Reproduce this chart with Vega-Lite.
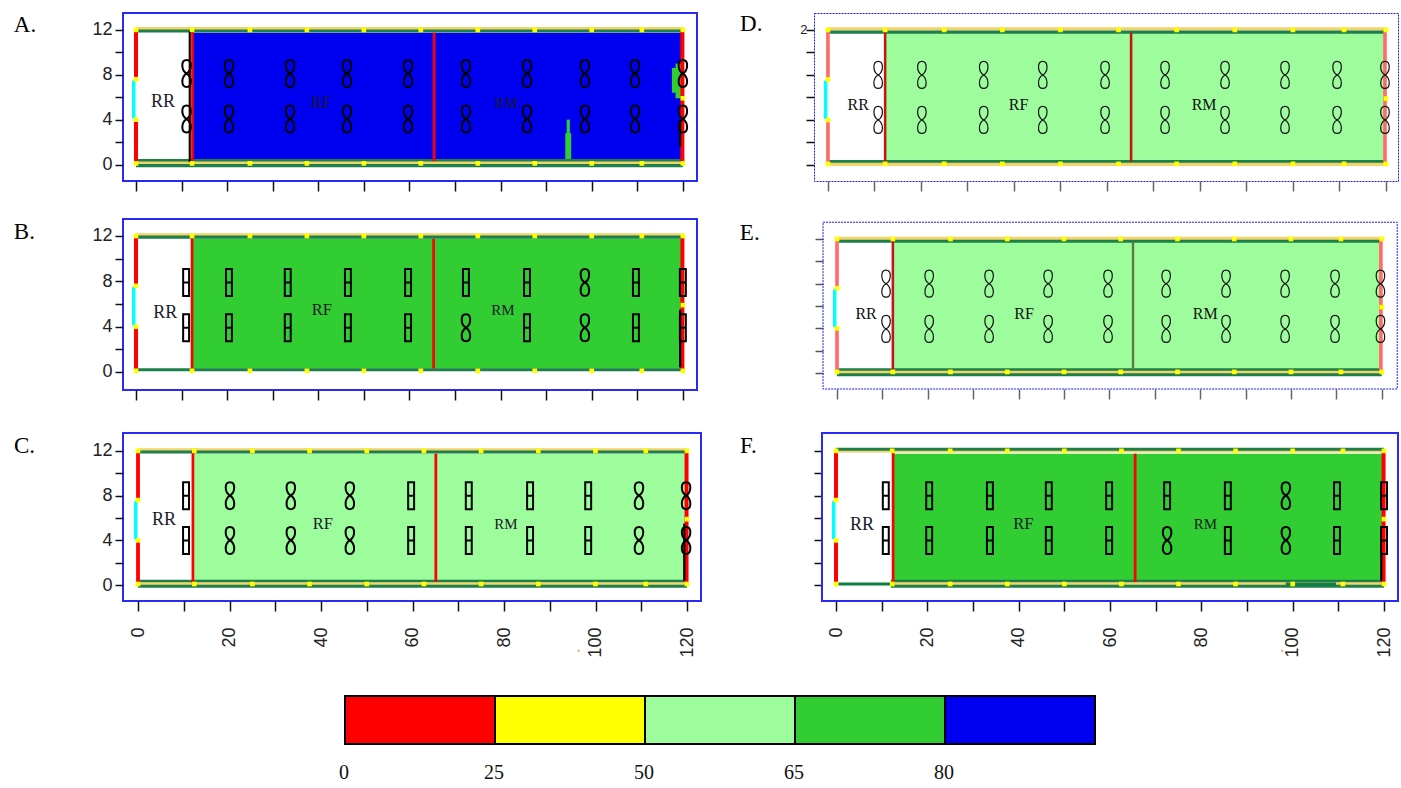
{"$schema":"https://vega.github.io/schema/vega-lite/v6.json","background":"white","padding":{"left":12,"top":12,"right":0,"bottom":0},"bounds":"flush","spacing":{"row":0,"column":113},"columns":2,
"config":{"view":{"stroke":null},"axis":{"title":null,"domain":false,"grid":false,"labelFont":"Liberation Sans","labelFontSize":18,"labelColor":"#222222","tickColor":"#111111","tickWidth":1.5},"axisX":{"tickSize":10,"labelAngle":-90,"labelPadding":16,"labels":false,"values":[0,10,20,30,40,50,60,70,80,90,100,110,120]},"axisY":{"tickSize":8,"labelPadding":3,"values":[0,2,4,6,8,10,12],"labelExpr":"datum.value % 4 === 0 ? datum.label : ''"},"text":{"font":"Liberation Serif"}},
"datasets":{"dots":[{"x":0,"y":12},{"x":12.3,"y":12},{"x":25,"y":12},{"x":37.5,"y":12},{"x":50,"y":12},{"x":62.5,"y":12},{"x":75,"y":12},{"x":87.5,"y":12},{"x":100,"y":12},{"x":111,"y":12},{"x":120,"y":12},{"x":0,"y":0.1},{"x":12.3,"y":0.1},{"x":25,"y":0.1},{"x":37.5,"y":0.1},{"x":50,"y":0.1},{"x":62.5,"y":0.1},{"x":75,"y":0.1},{"x":87.5,"y":0.1},{"x":100,"y":0.1},{"x":111,"y":0.1},{"x":120,"y":0.1},{"x":0,"y":7.6},{"x":0,"y":4},{"x":120,"y":5.9}]},
"data":{"values":[
{"panel":"A","type":"fan","x":11.1,"y":8.1,"form":"eight"},{"panel":"A","type":"fan","x":20.4,"y":8.1,"form":"eight"},{"panel":"A","type":"fan","x":33.8,"y":8.1,"form":"eight"},{"panel":"A","type":"fan","x":46.3,"y":8.1,"form":"eight"},{"panel":"A","type":"fan","x":59.7,"y":8.1,"form":"eight"},{"panel":"A","type":"fan","x":72.4,"y":8.1,"form":"eight"},{"panel":"A","type":"fan","x":85.8,"y":8.1,"form":"eight"},{"panel":"A","type":"fan","x":98.5,"y":8.1,"form":"eight"},{"panel":"A","type":"fan","x":109.5,"y":8.1,"form":"eight"},{"panel":"A","type":"fan","x":120,"y":8.1,"form":"eight"},
{"panel":"A","type":"fan","x":11.1,"y":4.05,"form":"eight"},{"panel":"A","type":"fan","x":20.4,"y":4.05,"form":"eight"},{"panel":"A","type":"fan","x":33.8,"y":4.05,"form":"eight"},{"panel":"A","type":"fan","x":46.3,"y":4.05,"form":"eight"},{"panel":"A","type":"fan","x":59.7,"y":4.05,"form":"eight"},{"panel":"A","type":"fan","x":72.4,"y":4.05,"form":"eight"},{"panel":"A","type":"fan","x":85.8,"y":4.05,"form":"eight"},{"panel":"A","type":"fan","x":98.5,"y":4.05,"form":"eight"},{"panel":"A","type":"fan","x":109.5,"y":4.05,"form":"eight"},{"panel":"A","type":"fan","x":120,"y":4.05,"form":"eight"},
{"panel":"B","type":"fan","x":11,"y":7.9,"form":"block"},{"panel":"B","type":"fan","x":20.4,"y":7.9,"form":"block"},{"panel":"B","type":"fan","x":33.3,"y":7.9,"form":"block"},{"panel":"B","type":"fan","x":46.5,"y":7.9,"form":"block"},{"panel":"B","type":"fan","x":59.7,"y":7.9,"form":"block"},{"panel":"B","type":"fan","x":72.4,"y":7.9,"form":"block"},{"panel":"B","type":"fan","x":85.8,"y":7.9,"form":"block"},{"panel":"B","type":"fan","x":98.5,"y":7.9,"form":"eight"},{"panel":"B","type":"fan","x":109.7,"y":7.9,"form":"block"},{"panel":"B","type":"fan","x":120,"y":7.9,"form":"block"},
{"panel":"B","type":"fan","x":11,"y":3.9,"form":"block"},{"panel":"B","type":"fan","x":20.4,"y":3.9,"form":"block"},{"panel":"B","type":"fan","x":33.3,"y":3.9,"form":"block"},{"panel":"B","type":"fan","x":46.5,"y":3.9,"form":"block"},{"panel":"B","type":"fan","x":59.7,"y":3.9,"form":"block"},{"panel":"B","type":"fan","x":72.4,"y":3.9,"form":"eight"},{"panel":"B","type":"fan","x":85.8,"y":3.9,"form":"block"},{"panel":"B","type":"fan","x":98.5,"y":3.9,"form":"eight"},{"panel":"B","type":"fan","x":109.7,"y":3.9,"form":"block"},{"panel":"B","type":"fan","x":120,"y":3.9,"form":"block"},
{"panel":"C","type":"fan","x":10.5,"y":8,"form":"block"},{"panel":"C","type":"fan","x":20.1,"y":8,"form":"eight"},{"panel":"C","type":"fan","x":33.4,"y":8,"form":"eight"},{"panel":"C","type":"fan","x":46.3,"y":8,"form":"eight"},{"panel":"C","type":"fan","x":59.7,"y":8,"form":"block"},{"panel":"C","type":"fan","x":72.3,"y":8,"form":"block"},{"panel":"C","type":"fan","x":85.7,"y":8,"form":"block"},{"panel":"C","type":"fan","x":98.4,"y":8,"form":"block"},{"panel":"C","type":"fan","x":109.5,"y":8,"form":"eight"},{"panel":"C","type":"fan","x":119.8,"y":8,"form":"eight"},
{"panel":"C","type":"fan","x":10.5,"y":4,"form":"block"},{"panel":"C","type":"fan","x":20.1,"y":4,"form":"eight"},{"panel":"C","type":"fan","x":33.4,"y":4,"form":"eight"},{"panel":"C","type":"fan","x":46.3,"y":4,"form":"eight"},{"panel":"C","type":"fan","x":59.7,"y":4,"form":"block"},{"panel":"C","type":"fan","x":72.3,"y":4,"form":"block"},{"panel":"C","type":"fan","x":85.7,"y":4,"form":"block"},{"panel":"C","type":"fan","x":98.4,"y":4,"form":"block"},{"panel":"C","type":"fan","x":109.5,"y":4,"form":"eight"},{"panel":"C","type":"fan","x":119.8,"y":4,"form":"eight"},
{"panel":"D","type":"fan","x":10.8,"y":8,"form":"eight"},{"panel":"D","type":"fan","x":20.2,"y":8,"form":"eight"},{"panel":"D","type":"fan","x":33.5,"y":8,"form":"eight"},{"panel":"D","type":"fan","x":46.2,"y":8,"form":"eight"},{"panel":"D","type":"fan","x":59.6,"y":8,"form":"eight"},{"panel":"D","type":"fan","x":72.5,"y":8,"form":"eight"},{"panel":"D","type":"fan","x":85.4,"y":8,"form":"eight"},{"panel":"D","type":"fan","x":98.3,"y":8,"form":"eight"},{"panel":"D","type":"fan","x":109.5,"y":8,"form":"eight"},{"panel":"D","type":"fan","x":119.8,"y":8,"form":"eight"},
{"panel":"D","type":"fan","x":10.8,"y":4,"form":"eight"},{"panel":"D","type":"fan","x":20.2,"y":4,"form":"eight"},{"panel":"D","type":"fan","x":33.5,"y":4,"form":"eight"},{"panel":"D","type":"fan","x":46.2,"y":4,"form":"eight"},{"panel":"D","type":"fan","x":59.6,"y":4,"form":"eight"},{"panel":"D","type":"fan","x":72.5,"y":4,"form":"eight"},{"panel":"D","type":"fan","x":85.4,"y":4,"form":"eight"},{"panel":"D","type":"fan","x":98.3,"y":4,"form":"eight"},{"panel":"D","type":"fan","x":109.5,"y":4,"form":"eight"},{"panel":"D","type":"fan","x":119.8,"y":4,"form":"eight"},
{"panel":"E","type":"fan","x":10.8,"y":8,"form":"eight"},{"panel":"E","type":"fan","x":20.3,"y":8,"form":"eight"},{"panel":"E","type":"fan","x":33.5,"y":8,"form":"eight"},{"panel":"E","type":"fan","x":46.5,"y":8,"form":"eight"},{"panel":"E","type":"fan","x":59.7,"y":8,"form":"eight"},{"panel":"E","type":"fan","x":72.5,"y":8,"form":"eight"},{"panel":"E","type":"fan","x":85.7,"y":8,"form":"eight"},{"panel":"E","type":"fan","x":98.7,"y":8,"form":"eight"},{"panel":"E","type":"fan","x":109.7,"y":8,"form":"eight"},{"panel":"E","type":"fan","x":119.7,"y":8,"form":"eight"},
{"panel":"E","type":"fan","x":10.8,"y":3.95,"form":"eight"},{"panel":"E","type":"fan","x":20.3,"y":3.95,"form":"eight"},{"panel":"E","type":"fan","x":33.5,"y":3.95,"form":"eight"},{"panel":"E","type":"fan","x":46.5,"y":3.95,"form":"eight"},{"panel":"E","type":"fan","x":59.7,"y":3.95,"form":"eight"},{"panel":"E","type":"fan","x":72.5,"y":3.95,"form":"eight"},{"panel":"E","type":"fan","x":85.7,"y":3.95,"form":"eight"},{"panel":"E","type":"fan","x":98.7,"y":3.95,"form":"eight"},{"panel":"E","type":"fan","x":109.7,"y":3.95,"form":"eight"},{"panel":"E","type":"fan","x":119.7,"y":3.95,"form":"eight"},
{"panel":"F","type":"fan","x":10.9,"y":8,"form":"block"},{"panel":"F","type":"fan","x":20.4,"y":8,"form":"block"},{"panel":"F","type":"fan","x":33.7,"y":8,"form":"block"},{"panel":"F","type":"fan","x":46.6,"y":8,"form":"block"},{"panel":"F","type":"fan","x":59.8,"y":8,"form":"block"},{"panel":"F","type":"fan","x":72.5,"y":8,"form":"block"},{"panel":"F","type":"fan","x":85.8,"y":8,"form":"block"},{"panel":"F","type":"fan","x":98.5,"y":8,"form":"eight"},{"panel":"F","type":"fan","x":109.7,"y":8,"form":"block"},{"panel":"F","type":"fan","x":120,"y":8,"form":"block"},
{"panel":"F","type":"fan","x":10.9,"y":4,"form":"block"},{"panel":"F","type":"fan","x":20.4,"y":4,"form":"block"},{"panel":"F","type":"fan","x":33.7,"y":4,"form":"block"},{"panel":"F","type":"fan","x":46.6,"y":4,"form":"block"},{"panel":"F","type":"fan","x":59.8,"y":4,"form":"block"},{"panel":"F","type":"fan","x":72.5,"y":4,"form":"eight"},{"panel":"F","type":"fan","x":85.8,"y":4,"form":"block"},{"panel":"F","type":"fan","x":98.5,"y":4,"form":"eight"},{"panel":"F","type":"fan","x":109.7,"y":4,"form":"block"},{"panel":"F","type":"fan","x":120,"y":4,"form":"block"},

{"panel":"E","type":"frame","x":-3.08,"x2":123.4,"y":-1.43,"y2":13.5},{"panel":"F","type":"frame","x":-3.07,"x2":123.06,"y":-1.42,"y2":13.6},

{"panel":"A","type":"zone","x":12.3,"x2":65.4,"y":0.3,"y2":11.75,"band":"80+"},{"panel":"A","type":"zone","x":65.4,"x2":119.6,"y":0.3,"y2":11.75,"band":"80+"},{"panel":"A","type":"zone","x":94.2,"x2":95.5,"y":0.3,"y2":2.8,"band":"65-80"},{"panel":"A","type":"zone","x":94.5,"x2":95.2,"y":2.8,"y2":4,"band":"65-80"},{"panel":"A","type":"zone","x":117.6,"x2":119.6,"y":6.4,"y2":8.6,"band":"65-80"},{"panel":"A","type":"zone","x":118.4,"x2":119.6,"y":5.9,"y2":9,"band":"65-80"},
{"panel":"B","type":"zone","x":12.3,"x2":65.3,"y":0.3,"y2":11.75,"band":"65-80"},{"panel":"B","type":"zone","x":65.3,"x2":119.6,"y":0.3,"y2":11.75,"band":"65-80"},
{"panel":"C","type":"zone","x":12,"x2":65.1,"y":0.3,"y2":11.75,"band":"50-65"},{"panel":"C","type":"zone","x":65.1,"x2":119.6,"y":0.3,"y2":11.75,"band":"50-65"},
{"panel":"D","type":"zone","x":12.3,"x2":65.2,"y":0.3,"y2":11.75,"band":"50-65"},{"panel":"D","type":"zone","x":65.2,"x2":119.6,"y":0.3,"y2":11.75,"band":"50-65"},
{"panel":"E","type":"zone","x":12.3,"x2":65.2,"y":0.3,"y2":11.75,"band":"50-65"},{"panel":"E","type":"zone","x":65.2,"x2":119.6,"y":0.3,"y2":11.75,"band":"50-65"},
{"panel":"F","type":"zone","x":12.5,"x2":65.5,"y":0.3,"y2":11.75,"band":"65-80"},{"panel":"F","type":"zone","x":65.5,"x2":119.6,"y":0.3,"y2":11.75,"band":"65-80"},

{"panel":"A","type":"seg","kind":"top","x":0,"x2":120,"y":12.1,"y2":12.1},{"panel":"A","type":"seg","kind":"green","x":0,"x2":120,"y":11.9,"y2":11.9},{"panel":"A","type":"seg","kind":"green","x":0,"x2":120,"y":0.35,"y2":0.35},{"panel":"A","type":"seg","kind":"top","x":0,"x2":120,"y":0.12,"y2":0.12},{"panel":"A","type":"seg","kind":"green","x":0,"x2":120,"y":-0.1,"y2":-0.1},{"panel":"A","type":"seg","kind":"wall","x":0,"x2":0,"y":0.2,"y2":3.9},{"panel":"A","type":"seg","kind":"wall","x":0,"x2":0,"y":7.7,"y2":11.9},{"panel":"A","type":"seg","kind":"door","x":-0.5,"x2":-0.5,"y":4.1,"y2":7.5},{"panel":"A","type":"seg","kind":"black","x":11.8,"x2":11.8,"y":0.2,"y2":11.9},{"panel":"A","type":"seg","kind":"part","x":12.4,"x2":12.4,"y":0.2,"y2":11.9},{"panel":"A","type":"seg","kind":"part","x":65.4,"x2":65.4,"y":0.3,"y2":11.75},{"panel":"A","type":"seg","kind":"wall","x":119.9,"x2":119.9,"y":0.2,"y2":11.9},{"panel":"A","type":"seg","kind":"black","x":119.4,"x2":119.4,"y":1.6,"y2":4},
{"panel":"B","type":"seg","kind":"top","x":0,"x2":120,"y":12.1,"y2":12.1},{"panel":"B","type":"seg","kind":"green","x":0,"x2":120,"y":11.9,"y2":11.9},{"panel":"B","type":"seg","kind":"green","x":0,"x2":120,"y":0.2,"y2":0.2},{"panel":"B","type":"seg","kind":"wall","x":0,"x2":0,"y":0.2,"y2":3.9},{"panel":"B","type":"seg","kind":"wall","x":0,"x2":0,"y":7.7,"y2":11.9},{"panel":"B","type":"seg","kind":"door","x":-0.5,"x2":-0.5,"y":4.1,"y2":7.5},{"panel":"B","type":"seg","kind":"part","x":12.3,"x2":12.3,"y":0.2,"y2":11.9},{"panel":"B","type":"seg","kind":"part","x":65.3,"x2":65.3,"y":0.3,"y2":11.75},{"panel":"B","type":"seg","kind":"wall","x":119.9,"x2":119.9,"y":0.2,"y2":11.9},{"panel":"B","type":"seg","kind":"black","x":119.4,"x2":119.4,"y":0.4,"y2":5.5},
{"panel":"C","type":"seg","kind":"top","x":0,"x2":120,"y":12.1,"y2":12.1},{"panel":"C","type":"seg","kind":"green","x":0,"x2":120,"y":11.9,"y2":11.9},{"panel":"C","type":"seg","kind":"green","x":0,"x2":120,"y":0.35,"y2":0.35},{"panel":"C","type":"seg","kind":"top","x":0,"x2":120,"y":0.12,"y2":0.12},{"panel":"C","type":"seg","kind":"green","x":0,"x2":120,"y":-0.1,"y2":-0.1},{"panel":"C","type":"seg","kind":"thin","x":0,"x2":0,"y":0.2,"y2":3.9},{"panel":"C","type":"seg","kind":"thin","x":0,"x2":0,"y":7.7,"y2":11.9},{"panel":"C","type":"seg","kind":"door","x":-0.5,"x2":-0.5,"y":4.1,"y2":7.5},{"panel":"C","type":"seg","kind":"part","x":12,"x2":12,"y":0.2,"y2":11.9},{"panel":"C","type":"seg","kind":"part","x":65.1,"x2":65.1,"y":0.3,"y2":11.75},{"panel":"C","type":"seg","kind":"wall","x":119.9,"x2":119.9,"y":0.2,"y2":11.9},{"panel":"C","type":"seg","kind":"black","x":119.4,"x2":119.4,"y":0.4,"y2":5.5},{"panel":"C","type":"seg","kind":"speck","x":96.1,"x2":96.5,"y":-5.87,"y2":-5.87},
{"panel":"D","type":"seg","kind":"top","x":0,"x2":120,"y":12.1,"y2":12.1},{"panel":"D","type":"seg","kind":"green","x":0,"x2":120,"y":11.8,"y2":11.8},{"panel":"D","type":"seg","kind":"green","x":0,"x2":120,"y":0.3,"y2":0.3},{"panel":"D","type":"seg","kind":"top","x":0,"x2":120,"y":0.05,"y2":0.05},{"panel":"D","type":"seg","kind":"pale","x":0,"x2":0,"y":0.2,"y2":3.9},{"panel":"D","type":"seg","kind":"pale","x":0,"x2":0,"y":7.7,"y2":11.9},{"panel":"D","type":"seg","kind":"door","x":-0.5,"x2":-0.5,"y":4.1,"y2":7.5},{"panel":"D","type":"seg","kind":"dark","x":12.3,"x2":12.3,"y":0.2,"y2":11.9},{"panel":"D","type":"seg","kind":"dark","x":65.2,"x2":65.2,"y":0.3,"y2":11.75},{"panel":"D","type":"seg","kind":"pale","x":119.8,"x2":119.8,"y":0.2,"y2":11.9},
{"panel":"E","type":"seg","kind":"top","x":0,"x2":120,"y":12.05,"y2":12.05},{"panel":"E","type":"seg","kind":"green","x":0,"x2":120,"y":11.8,"y2":11.8},{"panel":"E","type":"seg","kind":"green","x":0,"x2":120,"y":0.3,"y2":0.3},{"panel":"E","type":"seg","kind":"top","x":0,"x2":120,"y":0.05,"y2":0.05},{"panel":"E","type":"seg","kind":"green","x":0,"x2":120,"y":-0.15,"y2":-0.15},{"panel":"E","type":"seg","kind":"pale","x":0,"x2":0,"y":0.2,"y2":3.9},{"panel":"E","type":"seg","kind":"pale","x":0,"x2":0,"y":7.7,"y2":11.9},{"panel":"E","type":"seg","kind":"door","x":-0.5,"x2":-0.5,"y":4.1,"y2":7.5},{"panel":"E","type":"seg","kind":"dark","x":12.3,"x2":12.3,"y":0.2,"y2":11.9},{"panel":"E","type":"seg","kind":"olive","x":65.2,"x2":65.2,"y":0.3,"y2":11.75},{"panel":"E","type":"seg","kind":"pale","x":119.8,"x2":119.8,"y":0.2,"y2":11.9},
{"panel":"F","type":"seg","kind":"top","x":0,"x2":120,"y":12,"y2":12},{"panel":"F","type":"seg","kind":"green","x":0,"x2":120,"y":12.15,"y2":12.15},{"panel":"F","type":"seg","kind":"green","x":12,"x2":120,"y":0.35,"y2":0.35},{"panel":"F","type":"seg","kind":"top","x":12,"x2":120,"y":0.12,"y2":0.12},{"panel":"F","type":"seg","kind":"green","x":12,"x2":120,"y":-0.1,"y2":-0.1},{"panel":"F","type":"seg","kind":"thick","x":0.5,"x2":12,"y":0.1,"y2":0.1},{"panel":"F","type":"seg","kind":"thick","x":98.5,"x2":109.5,"y":0.1,"y2":0.1},{"panel":"F","type":"seg","kind":"wall","x":0,"x2":0,"y":0.2,"y2":3.9},{"panel":"F","type":"seg","kind":"wall","x":0,"x2":0,"y":7.7,"y2":11.9},{"panel":"F","type":"seg","kind":"door","x":-0.5,"x2":-0.5,"y":4.1,"y2":7.5},{"panel":"F","type":"seg","kind":"part","x":12.5,"x2":12.5,"y":0.2,"y2":11.9},{"panel":"F","type":"seg","kind":"part","x":65.5,"x2":65.5,"y":0.3,"y2":11.75},{"panel":"F","type":"seg","kind":"wall","x":119.9,"x2":119.9,"y":0.2,"y2":11.9},{"panel":"F","type":"seg","kind":"black","x":119.4,"x2":119.4,"y":0.4,"y2":3},{"panel":"F","type":"seg","kind":"speck","x":97.5,"x2":97.9,"y":-5.87,"y2":-5.87},

{"panel":"A","type":"room","label":"RR","x":5.9,"y":5.6},{"panel":"A","type":"room","label":"RF","x":40.6,"y":5.5},{"panel":"A","type":"room","label":"RM","x":81.2,"y":5.5},
{"panel":"B","type":"room","label":"RR","x":6.4,"y":5.2},{"panel":"B","type":"room","label":"RF","x":40.8,"y":5.5},{"panel":"B","type":"room","label":"RM","x":80.5,"y":5.5},
{"panel":"C","type":"room","label":"RR","x":5.7,"y":5.8},{"panel":"C","type":"room","label":"RF","x":40.4,"y":5.5},{"panel":"C","type":"room","label":"RM","x":80.4,"y":5.5},
{"panel":"D","type":"room","label":"RR","x":6.5,"y":5.3},{"panel":"D","type":"room","label":"RF","x":41,"y":5.3},{"panel":"D","type":"room","label":"RM","x":80.9,"y":5.3},
{"panel":"E","type":"room","label":"RR","x":6.4,"y":5.3},{"panel":"E","type":"room","label":"RF","x":41.2,"y":5.3},{"panel":"E","type":"room","label":"RM","x":81.1,"y":5.3},
{"panel":"F","type":"room","label":"RR","x":5.7,"y":5.4},{"panel":"F","type":"room","label":"RF","x":41,"y":5.5},{"panel":"F","type":"room","label":"RM","x":80.9,"y":5.5},

{"panel":"A","type":"letter","label":"A.","x":-26.8,"y":12.4},{"panel":"B","type":"letter","label":"B.","x":-26.8,"y":12.36},{"panel":"C","type":"letter","label":"C.","x":-27.1,"y":12.4},{"panel":"D","type":"letter","label":"D.","x":-18.9,"y":12.5},{"panel":"E","type":"letter","label":"E.","x":-21.4,"y":12.5},{"panel":"F","type":"letter","label":"F.","x":-21,"y":12.4},

{"panel":"L","type":"key","low":"0","band":"0-25"},{"panel":"L","type":"key","low":"25","band":"25-50"},{"panel":"L","type":"key","low":"50","band":"50-65"},{"panel":"L","type":"key","low":"65","band":"65-80"},{"panel":"L","type":"key","low":"80","band":"80+"}
]},
"concat":[
   {"width":574,"height":168,"view":{"stroke":"#2a2af5","strokeWidth":2},"transform":[{"filter":"datum.panel==='A'"}],
    "encoding":{"x":{"field":"x","type":"quantitative","scale":{"domain":[-2.85,123.1],"nice":false,"zero":false}},"y":{"field":"y","type":"quantitative","scale":{"domain":[-1.47,13.5],"nice":false,"zero":false}}},
    "layer":[
     {"transform":[{"filter":"datum.type==='zone'"}],"mark":{"type":"rect"},"encoding":{"x2":{"field":"x2"},"y2":{"field":"y2"},"fill":{"field":"band","type":"nominal","legend":null,"scale":{"domain":["0-25","25-50","50-65","65-80","80+"],"range":["#ff0000","#ffff00","#9dfd9d","#32cd32","#0000f0"]}}}},
     {"transform":[{"filter":"datum.type==='seg'"}],"mark":{"type":"rule"},"encoding":{"x2":{"field":"x2"},"y2":{"field":"y2"},"stroke":{"field":"kind","type":"nominal","legend":null,"scale":{"domain":["wall","thin","pale","door","top","green","thick","part","dark","olive","black","speck"],"range":["#ff0000","#ff0000","#ff6a6a","#00ffff","#f2d46a","#1d7f4b","#0e7f45","#ff0000","#c81414","#5c7d3c","#000000","#e8965a"]}},"strokeWidth":{"field":"kind","type":"ordinal","legend":null,"scale":{"domain":["wall","thin","pale","door","top","green","thick","part","dark","olive","black","speck"],"range":[4,2,4,4,2,2,4,2,2,1,2,1]}}}},
     {"data":{"name":"dots"},"mark":{"type":"square","size":22,"color":"#ffff00","opacity":1}},
     {"transform":[{"filter":"datum.type==='fan'"}],"mark":{"type":"point","filled":false,"stroke":"#000000","strokeWidth":2,"opacity":1,"size":729},"encoding":{"shape":{"field":"form","type":"nominal","legend":null,"scale":{"domain":["eight","block"],"range":["M0,0C-0.42,-0.25,-0.42,-1,0,-1C0.42,-1,0.42,-0.25,0,0C-0.42,0.25,-0.42,1,0,1C0.42,1,0.42,0.25,0,0Z","M-0.22,-1H0.22V1H-0.22ZM-0.22,0H0.22"]}}}},
     {"transform":[{"filter":"datum.type==='room'"}],"mark":{"type":"text","color":"#1a1a2a"},"encoding":{"text":{"field":"label"},"size":{"field":"label","type":"nominal","legend":null,"scale":{"domain":["RR","RF","RM"],"range":[18,15,16]}}}},
     {"transform":[{"filter":"datum.type==='letter'"}],"mark":{"type":"text","fontSize":23,"align":"left","color":"#000000"},"encoding":{"text":{"field":"label"}}}
    ]},
   {"width":584,"height":168,"view":{"stroke":"#1a1aff","strokeWidth":1,"strokeDash":[2,1]},"transform":[{"filter":"datum.panel==='D'"}],
    "encoding":{"x":{"field":"x","type":"quantitative","scale":{"domain":[-3,122.6],"nice":false,"zero":false},"axis":{"tickColor":"#666666"}},"y":{"field":"y","type":"quantitative","scale":{"domain":[-1.42,13.5],"nice":false,"zero":false},"axis":{"labelFontSize":13,"labelPadding":-1,"labelExpr":"datum.value === 12 ? '2' : ''"}}},
    "layer":[
     {"transform":[{"filter":"datum.type==='zone'"}],"mark":{"type":"rect"},"encoding":{"x2":{"field":"x2"},"y2":{"field":"y2"},"fill":{"field":"band","type":"nominal","legend":null,"scale":{"domain":["0-25","25-50","50-65","65-80","80+"],"range":["#ff0000","#ffff00","#9dfd9d","#32cd32","#0000f0"]}}}},
     {"transform":[{"filter":"datum.type==='seg'"}],"mark":{"type":"rule"},"encoding":{"x2":{"field":"x2"},"y2":{"field":"y2"},"stroke":{"field":"kind","type":"nominal","legend":null,"scale":{"domain":["wall","thin","pale","door","top","green","thick","part","dark","olive","black","speck"],"range":["#ff0000","#ff0000","#ff6a6a","#00ffff","#f2d46a","#1d7f4b","#0e7f45","#ff0000","#c81414","#5c7d3c","#000000","#e8965a"]}},"strokeWidth":{"field":"kind","type":"ordinal","legend":null,"scale":{"domain":["wall","thin","pale","door","top","green","thick","part","dark","olive","black","speck"],"range":[4,2,4,4,2,2,4,2,2,1,2,1]}}}},
     {"data":{"name":"dots"},"mark":{"type":"square","size":22,"color":"#ffff00","opacity":1}},
     {"transform":[{"filter":"datum.type==='fan'"}],"mark":{"type":"point","filled":false,"stroke":"#111111","strokeWidth":1.2,"opacity":1,"size":729},"encoding":{"shape":{"field":"form","type":"nominal","legend":null,"scale":{"domain":["eight","block"],"range":["M0,0C-0.42,-0.25,-0.42,-1,0,-1C0.42,-1,0.42,-0.25,0,0C-0.42,0.25,-0.42,1,0,1C0.42,1,0.42,0.25,0,0Z","M-0.22,-1H0.22V1H-0.22ZM-0.22,0H0.22"]}}}},
     {"transform":[{"filter":"datum.type==='room'"}],"mark":{"type":"text","fontSize":16,"color":"#111111"},"encoding":{"text":{"field":"label"}}},
     {"transform":[{"filter":"datum.type==='letter'"}],"mark":{"type":"text","fontSize":23,"align":"left","color":"#000000"},"encoding":{"text":{"field":"label"}}}
    ]},

   {"width":1,"height":38,"transform":[{"filter":"false"}],"mark":{"type":"rule"},"encoding":{}},
   {"width":1,"height":38,"transform":[{"filter":"false"}],"mark":{"type":"rule"},"encoding":{}},

   {"width":574,"height":171,"view":{"stroke":"#2a2af5","strokeWidth":2},"transform":[{"filter":"datum.panel==='B'"}],
    "encoding":{"x":{"field":"x","type":"quantitative","scale":{"domain":[-2.85,123.1],"nice":false,"zero":false}},"y":{"field":"y","type":"quantitative","scale":{"domain":[-1.59,13.5],"nice":false,"zero":false}}},
    "layer":[
     {"transform":[{"filter":"datum.type==='zone'"}],"mark":{"type":"rect"},"encoding":{"x2":{"field":"x2"},"y2":{"field":"y2"},"fill":{"field":"band","type":"nominal","legend":null,"scale":{"domain":["0-25","25-50","50-65","65-80","80+"],"range":["#ff0000","#ffff00","#9dfd9d","#32cd32","#0000f0"]}}}},
     {"transform":[{"filter":"datum.type==='seg'"}],"mark":{"type":"rule"},"encoding":{"x2":{"field":"x2"},"y2":{"field":"y2"},"stroke":{"field":"kind","type":"nominal","legend":null,"scale":{"domain":["wall","thin","pale","door","top","green","thick","part","dark","olive","black","speck"],"range":["#ff0000","#ff0000","#ff6a6a","#00ffff","#f2d46a","#1d7f4b","#0e7f45","#ff0000","#c81414","#5c7d3c","#000000","#e8965a"]}},"strokeWidth":{"field":"kind","type":"ordinal","legend":null,"scale":{"domain":["wall","thin","pale","door","top","green","thick","part","dark","olive","black","speck"],"range":[4,2,4,4,2,2,4,2,2,1,2,1]}}}},
     {"data":{"name":"dots"},"mark":{"type":"square","size":22,"color":"#ffff00","opacity":1}},
     {"transform":[{"filter":"datum.type==='fan'"}],"mark":{"type":"point","filled":false,"stroke":"#000000","strokeWidth":2,"opacity":1,"size":729},"encoding":{"shape":{"field":"form","type":"nominal","legend":null,"scale":{"domain":["eight","block"],"range":["M0,0C-0.42,-0.25,-0.42,-1,0,-1C0.42,-1,0.42,-0.25,0,0C-0.42,0.25,-0.42,1,0,1C0.42,1,0.42,0.25,0,0Z","M-0.22,-1H0.22V1H-0.22ZM-0.22,0H0.22"]}}}},
     {"transform":[{"filter":"datum.type==='room'"}],"mark":{"type":"text","color":"#1a1a2a"},"encoding":{"text":{"field":"label"},"size":{"field":"label","type":"nominal","legend":null,"scale":{"domain":["RR","RF","RM"],"range":[18,15,16]}}}},
     {"transform":[{"filter":"datum.type==='letter'"}],"mark":{"type":"text","fontSize":23,"align":"left","color":"#000000"},"encoding":{"text":{"field":"label"}}}
    ]},
   {"width":584,"height":171,"transform":[{"filter":"datum.panel==='E'"}],
    "encoding":{"x":{"field":"x","type":"quantitative","scale":{"domain":[-5.07,123.57],"nice":false,"zero":false},"axis":{"tickColor":"#666666","offset":-1}},"y":{"field":"y","type":"quantitative","scale":{"domain":[-1.52,13.79],"nice":false,"zero":false},"axis":{"labels":false,"tickColor":"#555555","offset":-9}}},
    "layer":[
     {"transform":[{"filter":"datum.type==='frame'"}],"mark":{"type":"rect","fill":"transparent","stroke":"#1a1aff","strokeWidth":1,"strokeDash":[2,1]},"encoding":{"x2":{"field":"x2"},"y2":{"field":"y2"}}},
     {"transform":[{"filter":"datum.type==='zone'"}],"mark":{"type":"rect"},"encoding":{"x2":{"field":"x2"},"y2":{"field":"y2"},"fill":{"field":"band","type":"nominal","legend":null,"scale":{"domain":["0-25","25-50","50-65","65-80","80+"],"range":["#ff0000","#ffff00","#9dfd9d","#32cd32","#0000f0"]}}}},
     {"transform":[{"filter":"datum.type==='seg'"}],"mark":{"type":"rule"},"encoding":{"x2":{"field":"x2"},"y2":{"field":"y2"},"stroke":{"field":"kind","type":"nominal","legend":null,"scale":{"domain":["wall","thin","pale","door","top","green","thick","part","dark","olive","black","speck"],"range":["#ff0000","#ff0000","#ff6a6a","#00ffff","#f2d46a","#1d7f4b","#0e7f45","#ff0000","#c81414","#5c7d3c","#000000","#e8965a"]}},"strokeWidth":{"field":"kind","type":"ordinal","legend":null,"scale":{"domain":["wall","thin","pale","door","top","green","thick","part","dark","olive","black","speck"],"range":[4,2,4,4,2,2,4,2,2,1,2,1]}}}},
     {"data":{"name":"dots"},"mark":{"type":"square","size":22,"color":"#ffff00","opacity":1}},
     {"transform":[{"filter":"datum.type==='fan'"}],"mark":{"type":"point","filled":false,"stroke":"#111111","strokeWidth":1.2,"opacity":1,"size":729},"encoding":{"shape":{"field":"form","type":"nominal","legend":null,"scale":{"domain":["eight","block"],"range":["M0,0C-0.42,-0.25,-0.42,-1,0,-1C0.42,-1,0.42,-0.25,0,0C-0.42,0.25,-0.42,1,0,1C0.42,1,0.42,0.25,0,0Z","M-0.22,-1H0.22V1H-0.22ZM-0.22,0H0.22"]}}}},
     {"transform":[{"filter":"datum.type==='room'"}],"mark":{"type":"text","fontSize":16,"color":"#111111"},"encoding":{"text":{"field":"label"}}},
     {"transform":[{"filter":"datum.type==='letter'"}],"mark":{"type":"text","fontSize":23,"align":"left","color":"#000000"},"encoding":{"text":{"field":"label"}}}
    ]},

   {"width":1,"height":43,"transform":[{"filter":"false"}],"mark":{"type":"rule"},"encoding":{}},
   {"width":1,"height":43,"transform":[{"filter":"false"}],"mark":{"type":"rule"},"encoding":{}},

   {"width":578,"height":168,"view":{"stroke":"#2a2af5","strokeWidth":2},"transform":[{"filter":"datum.panel==='C'"}],
    "encoding":{"x":{"field":"x","type":"quantitative","scale":{"domain":[-3.28,123.06],"nice":false,"zero":false},"axis":{"labels":true,"labelExpr":"datum.value % 20 === 0 ? datum.label : ''"}},"y":{"field":"y","type":"quantitative","scale":{"domain":[-1.42,13.6],"nice":false,"zero":false}}},
    "layer":[
     {"transform":[{"filter":"datum.type==='zone'"}],"mark":{"type":"rect"},"encoding":{"x2":{"field":"x2"},"y2":{"field":"y2"},"fill":{"field":"band","type":"nominal","legend":null,"scale":{"domain":["0-25","25-50","50-65","65-80","80+"],"range":["#ff0000","#ffff00","#9dfd9d","#32cd32","#0000f0"]}}}},
     {"transform":[{"filter":"datum.type==='seg'"}],"mark":{"type":"rule"},"encoding":{"x2":{"field":"x2"},"y2":{"field":"y2"},"stroke":{"field":"kind","type":"nominal","legend":null,"scale":{"domain":["wall","thin","pale","door","top","green","thick","part","dark","olive","black","speck"],"range":["#ff0000","#ff0000","#ff6a6a","#00ffff","#f2d46a","#1d7f4b","#0e7f45","#ff0000","#c81414","#5c7d3c","#000000","#e8965a"]}},"strokeWidth":{"field":"kind","type":"ordinal","legend":null,"scale":{"domain":["wall","thin","pale","door","top","green","thick","part","dark","olive","black","speck"],"range":[4,2,4,4,2,2,4,2,2,1,2,1]}}}},
     {"data":{"name":"dots"},"mark":{"type":"square","size":22,"color":"#ffff00","opacity":1}},
     {"transform":[{"filter":"datum.type==='fan'"}],"mark":{"type":"point","filled":false,"stroke":"#000000","strokeWidth":2,"opacity":1,"size":729},"encoding":{"shape":{"field":"form","type":"nominal","legend":null,"scale":{"domain":["eight","block"],"range":["M0,0C-0.42,-0.25,-0.42,-1,0,-1C0.42,-1,0.42,-0.25,0,0C-0.42,0.25,-0.42,1,0,1C0.42,1,0.42,0.25,0,0Z","M-0.22,-1H0.22V1H-0.22ZM-0.22,0H0.22"]}}}},
     {"transform":[{"filter":"datum.type==='room'"}],"mark":{"type":"text","color":"#1a1a2a"},"encoding":{"text":{"field":"label"},"size":{"field":"label","type":"nominal","legend":null,"scale":{"domain":["RR","RF","RM"],"range":[18,15,16]}}}},
     {"transform":[{"filter":"datum.type==='letter'"}],"mark":{"type":"text","fontSize":23,"align":"left","color":"#000000"},"encoding":{"text":{"field":"label"}}}
    ]},
   {"width":584,"height":168,"transform":[{"filter":"datum.panel==='F'"}],
    "encoding":{"x":{"field":"x","type":"quantitative","scale":{"domain":[-4.82,123.06],"nice":false,"zero":false},"axis":{"labels":true,"labelExpr":"datum.value % 20 === 0 ? datum.label : ''"}},"y":{"field":"y","type":"quantitative","scale":{"domain":[-1.42,13.6],"nice":false,"zero":false},"axis":{"labels":false,"offset":-8}}},
    "layer":[
     {"transform":[{"filter":"datum.type==='frame'"}],"mark":{"type":"rect","fill":"transparent","stroke":"#2a2af5","strokeWidth":2},"encoding":{"x2":{"field":"x2"},"y2":{"field":"y2"}}},
     {"transform":[{"filter":"datum.type==='zone'"}],"mark":{"type":"rect"},"encoding":{"x2":{"field":"x2"},"y2":{"field":"y2"},"fill":{"field":"band","type":"nominal","legend":null,"scale":{"domain":["0-25","25-50","50-65","65-80","80+"],"range":["#ff0000","#ffff00","#9dfd9d","#32cd32","#0000f0"]}}}},
     {"transform":[{"filter":"datum.type==='seg'"}],"mark":{"type":"rule"},"encoding":{"x2":{"field":"x2"},"y2":{"field":"y2"},"stroke":{"field":"kind","type":"nominal","legend":null,"scale":{"domain":["wall","thin","pale","door","top","green","thick","part","dark","olive","black","speck"],"range":["#ff0000","#ff0000","#ff6a6a","#00ffff","#f2d46a","#1d7f4b","#0e7f45","#ff0000","#c81414","#5c7d3c","#000000","#e8965a"]}},"strokeWidth":{"field":"kind","type":"ordinal","legend":null,"scale":{"domain":["wall","thin","pale","door","top","green","thick","part","dark","olive","black","speck"],"range":[4,2,4,4,2,2,4,2,2,1,2,1]}}}},
     {"data":{"name":"dots"},"mark":{"type":"square","size":22,"color":"#ffff00","opacity":1}},
     {"transform":[{"filter":"datum.type==='fan'"}],"mark":{"type":"point","filled":false,"stroke":"#000000","strokeWidth":2,"opacity":1,"size":729},"encoding":{"shape":{"field":"form","type":"nominal","legend":null,"scale":{"domain":["eight","block"],"range":["M0,0C-0.42,-0.25,-0.42,-1,0,-1C0.42,-1,0.42,-0.25,0,0C-0.42,0.25,-0.42,1,0,1C0.42,1,0.42,0.25,0,0Z","M-0.22,-1H0.22V1H-0.22ZM-0.22,0H0.22"]}}}},
     {"transform":[{"filter":"datum.type==='room'"}],"mark":{"type":"text","color":"#1a1a2a"},"encoding":{"text":{"field":"label"},"size":{"field":"label","type":"nominal","legend":null,"scale":{"domain":["RR","RF","RM"],"range":[18,15,16]}}}},
     {"transform":[{"filter":"datum.type==='letter'"}],"mark":{"type":"text","fontSize":23,"align":"left","color":"#000000"},"encoding":{"text":{"field":"label"}}}
    ]},

   {"width":1,"height":95,"transform":[{"filter":"false"}],"mark":{"type":"rule"},"encoding":{}},
   {"width":1,"height":95,"transform":[{"filter":"false"}],"mark":{"type":"rule"},"encoding":{}},

   {"width":578,"height":48,"transform":[{"filter":"datum.type==='key'"}],"mark":{"type":"rect","stroke":"#000000","strokeWidth":2},
    "encoding":{"x":{"field":"low","type":"ordinal","sort":null,"scale":{"domain":["0","25","50","65","80"],"range":[222,972],"paddingInner":0,"paddingOuter":0},"axis":{"ticks":false,"labels":true,"labelAngle":0,"labelPadding":18,"labelOffset":-76,"labelFont":"Liberation Serif","labelFontSize":20,"labelColor":"#111111"}},"fill":{"field":"band","type":"nominal","legend":null,"scale":{"domain":["0-25","25-50","50-65","65-80","80+"],"range":["#ff0000","#ffff00","#9dfd9d","#32cd32","#0000f0"]}}}}
]}
